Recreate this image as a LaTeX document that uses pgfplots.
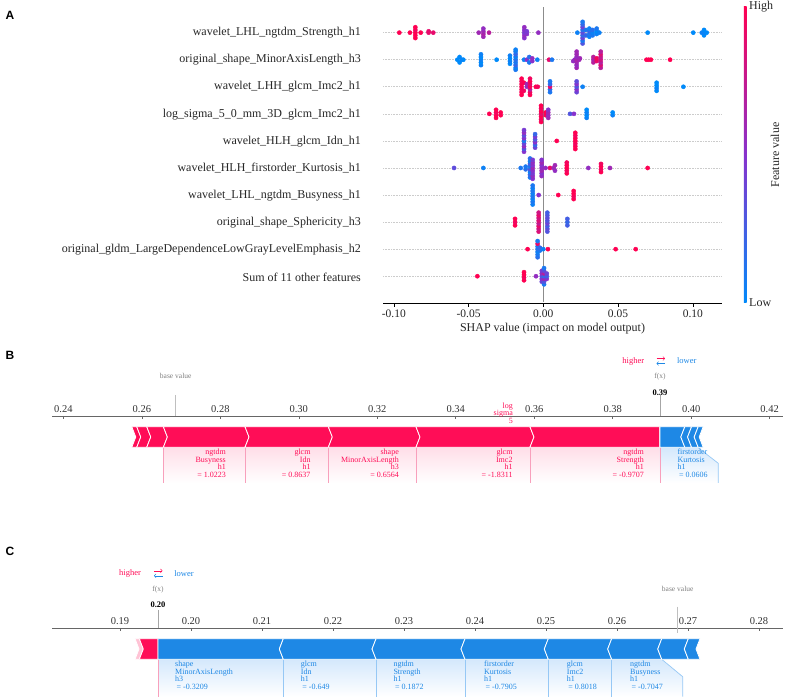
\documentclass[border=0pt]{standalone}
\usepackage{pgfplots}
\pgfplotsset{compat=1.18}
\usepackage{fontspec}
\setmainfont{Liberation Serif}
\newfontfamily\arialfont{Liberation Sans}
\definecolor{shapred}{RGB}{255,13,87}
\definecolor{shapblue}{RGB}{30,136,229}
\definecolor{cbblue}{RGB}{0,138,250}
\definecolor{cbred}{RGB}{255,0,82}
\definecolor{cbmid}{RGB}{135,50,205}
\definecolor{pinkline}{RGB}{248,160,188}
\definecolor{blueline}{RGB}{150,200,245}
\definecolor{pinkfill}{RGB}{255,222,232}
\definecolor{bluefill}{RGB}{212,232,252}
\definecolor{lightpink}{RGB}{255,195,213}
\newcommand{\fs}[2]{\fontsize{#1}{#2}\selectfont}

\begin{document}
\begin{tikzpicture}
\path[use as bounding box] (0,0) rectangle (786pt,699pt);

% ---------------- Panel A ----------------
\begin{axis}[
  at={(383pt,395.7pt)}, anchor=south west,
  scale only axis, width=339pt, height=297.7pt,
  xmin=-0.10722, xmax=0.11953, ymin=-1, ymax=10,
  axis x line*=bottom, hide y axis,
  xtick={-0.1,-0.05,0,0.05,0.1},
  xticklabels={-0.10,-0.05,0.00,0.05,0.10},
  tick align=outside, major tick length=3.5pt,
  xtick style={black, line width=0.6pt},
  x axis line style={black, line width=0.6pt, -},
  xticklabel style={font=\fs{11.5}{13}, text=black!85},
  colormap={shap}{rgb255=(0,138,250) rgb255=(135,50,205) rgb255=(255,0,82)},
  point meta min=0, point meta max=1,
  clip=false,
]
\pgfplotsinvokeforeach{0,...,9}{\draw[densely dotted, gray!40, line width=0.6pt] (axis cs:-0.10722,#1) -- (axis cs:0.11953,#1);}
\draw[black!45, line width=0.9pt] (axis cs:0,-0.95) -- (axis cs:0,9.95);
\addplot[scatter, only marks, mark=*, mark size=2.1pt, scatter src=explicit,
  scatter/use mapped color={draw=mapped color, fill=mapped color}]
  table[x=x, y=y, meta=c] {
x y c
-0.0963 9 1
-0.0892 9 1
-0.0856 8.8 1
-0.0856 8.9 1
-0.0856 9 1
-0.0856 9.1 0.95
-0.0856 9.2 1
-0.0820 9 1
-0.0767 9 0.9
-0.0767 9.05 0.9
-0.0736 9 0.9
-0.0432 9 0.6
-0.0401 8.85 0.6
-0.0401 8.95 0.65
-0.0401 9.05 0.6
-0.0401 9.15 0.55
-0.0363 9 0.7
-0.0127 8.8 0.5
-0.0127 8.9 0.55
-0.0127 9.0 0.45
-0.0127 9.1 0.5
-0.0127 9.2 0.55
-0.0110 8.95 0.5
-0.0110 9.05 0.45
-0.0033 9 0.55
0.0228 9 0.05
0.0263 8.6 0.3
0.0263 8.7 0.1
0.0263 8.8 0.4
0.0263 8.9 0.2
0.0263 9.0 0.35
0.0263 9.1 0.15
0.0263 9.2 0.4
0.0263 9.3 0.2
0.0263 9.4 0.1
0.0285 8.9 0.2
0.0285 9.1 0.1
0.0308 8.85 0.05
0.0308 8.95 0.1
0.0308 9.05 0.2
0.0308 9.15 0.05
0.0330 8.9 0.1
0.0330 9.0 0.05
0.0330 9.1 0.15
0.0357 8.95 0.05
0.0357 9.05 0.0
0.0357 9.15 0.1
0.0375 9 0.05
0.0698 9 0.0
0.1003 9 0.0
0.1060 9 0.05
0.1075 8.9 0.0
0.1075 9.0 0.05
0.1075 9.1 0
0.1093 9 0
-0.0575 8 0
-0.0560 7.9 0
-0.0560 8.1 0
-0.0545 8 0.05
-0.0535 8 0
-0.0417 7.8 0.05
-0.0417 7.9 0
-0.0417 8.0 0.05
-0.0417 8.1 0
-0.0417 8.2 0.05
-0.0312 8 0
-0.0223 7.85 0
-0.0223 7.95 0.05
-0.0223 8.05 0
-0.0223 8.15 0.05
-0.0185 7.63 0.1
-0.0185 7.7 0.05
-0.0185 7.8 0.2
-0.0185 7.9 0.1
-0.0185 8.0 0.15
-0.0185 8.1 0.05
-0.0185 8.2 0.2
-0.0185 8.3 0.1
-0.0185 8.37 0.05
-0.0129 8 0.05
-0.0110 8 0.5
-0.0094 7.9 0.1
-0.0094 8.1 0.15
-0.0074 7.95 0.5
-0.0074 8.05 0.55
-0.0040 8 0.05
0.0038 8 0.9
0.0058 8 0.1
0.0200 7.95 0.55
0.0210 8 0.55
0.0223 7.7 0.6
0.0223 7.8 0.55
0.0223 7.9 0.6
0.0223 8.0 0.65
0.0223 8.1 0.55
0.0223 8.2 0.6
0.0223 8.3 0.6
0.0240 8 0.6
0.0245 8.05 0.6
0.0335 7.9 0.7
0.0335 8.0 0.65
0.0335 8.1 0.7
0.0357 7.95 0.9
0.0357 8.05 0.95
0.0384 7.7 0.7
0.0384 7.8 0.85
0.0384 7.9 0.7
0.0384 8.0 0.8
0.0384 8.1 0.75
0.0384 8.2 0.85
0.0384 8.3 0.7
0.0690 8 1
0.0705 8 1
0.0720 8 1
0.0848 8 1
-0.0145 6.7 1
-0.0145 6.8 1
-0.0145 6.9 0.95
-0.0145 7.0 1
-0.0145 7.1 1
-0.0145 7.2 0.95
-0.0145 7.3 1
-0.0130 6.85 0.95
-0.0130 7.15 1
-0.0110 7.0 0.55
-0.0110 7.1 0.6
-0.0089 6.7 1
-0.0089 6.8 0.95
-0.0089 6.9 0.7
-0.0089 7.0 1
-0.0089 7.1 0.9
-0.0089 7.2 1
-0.0089 7.3 0.95
-0.0050 7 1
-0.0037 7 0.95
0.0045 6.8 0.1
0.0045 6.9 0.15
0.0045 7.0 0.9
0.0045 7.1 0.2
0.0045 7.2 0.1
0.0223 6.8 0.4
0.0223 6.9 0.5
0.0223 7.0 0.3
0.0223 7.1 0.5
0.0223 7.2 0.35
0.0263 7 0.05
0.0758 6.85 0
0.0758 6.95 0.05
0.0758 7.05 0
0.0758 7.15 0
0.0937 7 0
-0.0361 6 1
-0.0316 5.85 1
-0.0316 5.95 1
-0.0316 6.05 0.95
-0.0316 6.15 1
-0.0285 5.95 1
-0.0285 6.05 1
-0.0015 5.7 1
-0.0015 5.8 0.95
-0.0015 5.9 1
-0.0015 6.0 0.9
-0.0015 6.1 1
-0.0015 6.2 0.95
-0.0015 6.3 1
0.0016 5.95 0.95
0.0016 6.05 1
0.0033 5.85 0.6
0.0033 5.95 0.55
0.0033 6.05 0.6
0.0033 6.15 0.5
0.0179 6 0.3
0.0205 6 0.5
0.0290 5.85 0.05
0.0290 5.95 0
0.0290 6.05 0.05
0.0290 6.15 0
0.0464 5.95 0.05
0.0464 6.05 0
-0.0129 4.6 0.5
-0.0129 4.7 0.3
-0.0129 4.8 0.55
-0.0129 4.9 0.4
-0.0129 5.0 0.1
-0.0129 5.1 0.5
-0.0129 5.2 0.35
-0.0129 5.3 0.55
-0.0129 5.4 0.45
-0.0055 4.75 0.4
-0.0055 4.85 0.2
-0.0055 4.95 0.5
-0.0055 5.05 0.3
-0.0055 5.15 0.45
-0.0055 5.25 0.2
0.0090 5 1
0.0214 4.7 1
0.0214 4.8 1
0.0214 4.9 0.95
0.0214 5.0 1
0.0214 5.1 1
0.0214 5.2 0.95
0.0214 5.3 1
-0.0597 4 0.35
-0.0401 4 0.05
-0.0151 4 0.1
-0.0118 3.95 0.15
-0.0118 4.05 0.1
-0.0089 3.65 0.1
-0.0089 3.75 0.2
-0.0089 3.85 0.05
-0.0089 3.95 0.3
-0.0089 4.05 0.1
-0.0089 4.15 0.25
-0.0089 4.25 0.05
-0.0089 4.35 0.15
-0.0071 3.6 0.5
-0.0071 3.7 0.55
-0.0071 3.8 0.45
-0.0071 3.9 0.5
-0.0071 4.0 0.6
-0.0071 4.1 0.5
-0.0071 4.2 0.55
-0.0071 4.3 0.45
-0.0011 3.7 0.55
-0.0011 3.8 0.5
-0.0011 3.9 0.6
-0.0011 4.0 0.55
-0.0011 4.1 0.5
-0.0011 4.2 0.6
-0.0011 4.3 0.5
0.0015 4 0.55
0.0045 4 0.9
0.0070 4 0.6
0.0078 3.9 0.55
0.0078 4.1 0.6
0.0157 3.8 1
0.0157 3.9 0.95
0.0157 4.0 1
0.0157 4.1 1
0.0157 4.2 0.95
0.0301 4 0.55
0.0386 3.85 1
0.0386 3.95 0.95
0.0386 4.05 1
0.0386 4.15 0.95
0.0446 4 0.6
0.0698 4 1
-0.0071 2.65 0.05
-0.0071 2.75 0.1
-0.0071 2.85 0.05
-0.0071 2.95 0.1
-0.0071 3.05 0.05
-0.0071 3.15 0.1
-0.0071 3.25 0.05
-0.0071 3.35 0.1
-0.0031 3 0.5
0.0100 3 1
0.0203 2.85 1
0.0203 2.95 0.95
0.0203 3.05 1
0.0203 3.15 1
-0.0189 1.88 1
-0.0189 2.0 0.95
-0.0189 2.12 1
-0.0031 1.65 0.85
-0.0031 1.75 0.8
-0.0031 1.85 0.9
-0.0031 1.95 0.75
-0.0031 2.05 0.85
-0.0031 2.15 0.8
-0.0031 2.25 0.9
-0.0031 2.35 0.8
0.0027 1.65 0.3
0.0027 1.75 0.35
0.0027 1.85 0.25
0.0027 1.95 0.4
0.0027 2.05 0.3
0.0027 2.15 0.35
0.0027 2.25 0.3
0.0027 2.35 0.25
0.0161 1.88 0.25
0.0161 2.0 0.2
0.0161 2.12 0.25
-0.0105 1 1
-0.0038 0.7 0.15
-0.0038 0.8 0.1
-0.0038 0.9 0.05
-0.0038 1.0 0.15
-0.0038 1.1 0.1
-0.0038 1.2 0.9
-0.0038 1.3 0.1
-0.0022 0.95 0.1
-0.0022 1.05 0.2
0.0000 1 0.05
0.0031 1 1
0.0484 1 1
0.0618 1 1
-0.0441 0 1
-0.0129 -0.15 1
-0.0129 -0.05 0.95
-0.0129 0.05 1
-0.0129 0.15 1
-0.0049 0 0.55
-0.0010 -0.2 0.4
-0.0010 -0.1 0.5
-0.0010 0 0.3
-0.0010 0.1 0.55
-0.0010 0.2 0.45
0.0005 -0.3 0.1
0.0005 -0.2 0.3
0.0005 -0.1 0.6
0.0005 0.0 0.2
0.0005 0.1 0.7
0.0005 0.2 0.35
0.0005 0.3 0.1
0.0023 -0.1 0.5
0.0023 0 0.25
0.0023 0.1 0.4
};
\end{axis}

% ---------------- Panel B ----------------
\begin{axis}[
  at={(52pt,209pt)}, anchor=south west,
  scale only axis, width=731pt, height=74pt,
  xmin=0.2371, xmax=0.4234, ymin=-490, ymax=-416,
  axis x line*=top, hide y axis,
  xtick={0.24,0.26,0.28,0.30,0.32,0.34,0.36,0.38,0.40,0.42},
  xticklabels={0.24,0.26,0.28,0.30,0.32,0.34,0.36,0.38,0.40,0.42},
  tick align=inside, major tick length=3pt,
  xtick style={black!60, line width=0.6pt},
  x axis line style={black!60, line width=0.8pt, -},
  xticklabel style={font=\fs{10.5}{12}, text=black!80},
  clip=false,
]
% label boxes
\addplot[draw=none, top color=pinkfill, bottom color=white] coordinates {(0.26548,-447.3) (0.39202,-447.3) (0.39202,-483) (0.26548,-483)} -- cycle;
\addplot[draw=none, top color=bluefill, bottom color=white] coordinates {(0.39202,-447.3) (0.40164,-447.3) (0.40690,-463.3) (0.40690,-483) (0.39202,-483)} -- cycle;
\pgfplotsinvokeforeach{0.26548,0.28629,0.30752,0.32986,0.35891,0.39202}{\draw[pinkline, line width=0.7pt] (axis cs:#1,-447.3) -- (axis cs:#1,-483);}
\draw[blueline, line width=0.7pt] (axis cs:0.40164,-447.3) -- (axis cs:0.40690,-463.3) -- (axis cs:0.40690,-483);
% red segments
\addplot[fill=shapred, draw=white, line width=0.8pt] coordinates {(0.25743,-426.7) (0.25870,-426.7) (0.25972,-437) (0.25870,-447.3) (0.25743,-447.3) (0.25845,-437)} -- cycle;
\addplot[fill=shapred, draw=white, line width=0.8pt] coordinates {(0.25870,-426.7) (0.26125,-426.7) (0.26227,-437) (0.26125,-447.3) (0.25870,-447.3) (0.25972,-437)} -- cycle;
\addplot[fill=shapred, draw=white, line width=0.8pt] coordinates {(0.26125,-426.7) (0.26548,-426.7) (0.26650,-437) (0.26548,-447.3) (0.26125,-447.3) (0.26227,-437)} -- cycle;
\addplot[fill=shapred, draw=white, line width=0.8pt] coordinates {(0.26548,-426.7) (0.28629,-426.7) (0.28731,-437) (0.28629,-447.3) (0.26548,-447.3) (0.26650,-437)} -- cycle;
\addplot[fill=shapred, draw=white, line width=0.8pt] coordinates {(0.28629,-426.7) (0.30752,-426.7) (0.30854,-437) (0.30752,-447.3) (0.28629,-447.3) (0.28731,-437)} -- cycle;
\addplot[fill=shapred, draw=white, line width=0.8pt] coordinates {(0.30752,-426.7) (0.32986,-426.7) (0.33088,-437) (0.32986,-447.3) (0.30752,-447.3) (0.30854,-437)} -- cycle;
\addplot[fill=shapred, draw=white, line width=0.8pt] coordinates {(0.32986,-426.7) (0.35891,-426.7) (0.35993,-437) (0.35891,-447.3) (0.32986,-447.3) (0.33088,-437)} -- cycle;
\addplot[fill=shapred, draw=white, line width=0.8pt] coordinates {(0.35891,-426.7) (0.39202,-426.7) (0.39202,-447.3) (0.35891,-447.3) (0.35993,-437)} -- cycle;
% blue segments
\addplot[fill=shapblue, draw=white, line width=0.8pt] coordinates {(0.39202,-426.7) (0.39838,-426.7) (0.39736,-437) (0.39838,-447.3) (0.39202,-447.3)} -- cycle;
\addplot[fill=shapblue, draw=white, line width=0.8pt] coordinates {(0.39838,-426.7) (0.40010,-426.7) (0.39908,-437) (0.40010,-447.3) (0.39838,-447.3) (0.39736,-437)} -- cycle;
\addplot[fill=shapblue, draw=white, line width=0.8pt] coordinates {(0.40010,-426.7) (0.40178,-426.7) (0.40076,-437) (0.40178,-447.3) (0.40010,-447.3) (0.39908,-437)} -- cycle;
\addplot[fill=shapblue, draw=white, line width=0.8pt] coordinates {(0.40178,-426.7) (0.40306,-426.7) (0.40204,-437) (0.40306,-447.3) (0.40178,-447.3) (0.40076,-437)} -- cycle;
% f(x) and base value lines
\draw[black!35, line width=0.6pt] (axis cs:0.39202,-395) -- (axis cs:0.39202,-416);
\draw[black!25, line width=0.6pt] (axis cs:0.26864,-395) -- (axis cs:0.26864,-416);
\end{axis}

% ---------------- Panel C ----------------
\begin{axis}[
  at={(52pt,1pt)}, anchor=south west,
  scale only axis, width=731pt, height=70pt,
  xmin=0.18042, xmax=0.28338, ymin=-698, ymax=-628,
  axis x line*=top, hide y axis,
  xtick={0.19,0.20,0.21,0.22,0.23,0.24,0.25,0.26,0.27,0.28},
  xticklabels={0.19,0.20,0.21,0.22,0.23,0.24,0.25,0.26,0.27,0.28},
  tick align=inside, major tick length=3pt,
  xtick style={black!60, line width=0.6pt},
  x axis line style={black!60, line width=0.8pt, -},
  xticklabel style={font=\fs{10.5}{12}, text=black!80},
  clip=false,
]
\addplot[draw=none, top color=bluefill, bottom color=white] coordinates {(0.19535,-659.3) (0.26630,-659.3) (0.26925,-676.7) (0.26925,-696.7) (0.19535,-696.7)} -- cycle;
\pgfplotsinvokeforeach{0.21300,0.22606,0.23859,0.25032,0.25925}{\draw[blueline, line width=0.7pt] (axis cs:#1,-659.3) -- (axis cs:#1,-696.7);}
\draw[blueline, line width=0.7pt] (axis cs:0.26630,-659.3) -- (axis cs:0.26925,-676.7) -- (axis cs:0.26925,-696.7);
\draw[pinkline, line width=0.7pt] (axis cs:0.19535,-659.3) -- (axis cs:0.19535,-696.7);
% red / pink
\addplot[fill=lightpink, draw=white, line width=0.8pt] coordinates {(0.19211,-638.7) (0.19272,-638.7) (0.19328,-649) (0.19272,-659.3) (0.19211,-659.3) (0.19267,-649)} -- cycle;
\addplot[fill=shapred, draw=white, line width=0.8pt] coordinates {(0.19272,-638.7) (0.19535,-638.7) (0.19535,-659.3) (0.19272,-659.3) (0.19328,-649)} -- cycle;
% blue
\addplot[fill=shapblue, draw=white, line width=0.8pt] coordinates {(0.19535,-638.7) (0.21300,-638.7) (0.21244,-649) (0.21300,-659.3) (0.19535,-659.3)} -- cycle;
\addplot[fill=shapblue, draw=white, line width=0.8pt] coordinates {(0.21300,-638.7) (0.22606,-638.7) (0.22550,-649) (0.22606,-659.3) (0.21300,-659.3) (0.21244,-649)} -- cycle;
\addplot[fill=shapblue, draw=white, line width=0.8pt] coordinates {(0.22606,-638.7) (0.23859,-638.7) (0.23803,-649) (0.23859,-659.3) (0.22606,-659.3) (0.22550,-649)} -- cycle;
\addplot[fill=shapblue, draw=white, line width=0.8pt] coordinates {(0.23859,-638.7) (0.25032,-638.7) (0.24976,-649) (0.25032,-659.3) (0.23859,-659.3) (0.23803,-649)} -- cycle;
\addplot[fill=shapblue, draw=white, line width=0.8pt] coordinates {(0.25032,-638.7) (0.25925,-638.7) (0.25869,-649) (0.25925,-659.3) (0.25032,-659.3) (0.24976,-649)} -- cycle;
\addplot[fill=shapblue, draw=white, line width=0.8pt] coordinates {(0.25925,-638.7) (0.26630,-638.7) (0.26574,-649) (0.26630,-659.3) (0.25925,-659.3) (0.25869,-649)} -- cycle;
\addplot[fill=shapblue, draw=white, line width=0.8pt] coordinates {(0.26630,-638.7) (0.27004,-638.7) (0.26948,-649) (0.27004,-659.3) (0.26630,-659.3) (0.26574,-649)} -- cycle;
\addplot[fill=shapblue, draw=white, line width=0.8pt] coordinates {(0.27004,-638.7) (0.27169,-638.7) (0.27113,-649) (0.27169,-659.3) (0.27004,-659.3) (0.26948,-649)} -- cycle;
\draw[black!35, line width=0.6pt] (axis cs:0.19535,-610) -- (axis cs:0.19535,-628);
\draw[black!25, line width=0.6pt] (axis cs:0.26855,-606.7) -- (axis cs:0.26855,-633.3);
\end{axis}

% ---------------- Text (pixel coordinates, y down) ----------------
\begin{scope}[x=1pt, y=-1pt, yshift=699pt]
\node[font=\arialfont\bfseries\fs{12}{14}] at (10,15) {A};
\node[font=\arialfont\bfseries\fs{12}{14}] at (10,355) {B};
\node[font=\arialfont\bfseries\fs{12}{14}] at (10,551) {C};
\begin{scope}[every node/.style={anchor=east, font=\fs{12}{14}, text=black!85, inner sep=0pt}]
\node at (361,32.7) {wavelet\_LHL\_ngtdm\_Strength\_h1};
\node at (361,59.85) {original\_shape\_MinorAxisLength\_h3};
\node at (361,87.0) {wavelet\_LHH\_glcm\_Imc2\_h1};
\node at (361,114.15) {log\_sigma\_5\_0\_mm\_3D\_glcm\_Imc2\_h1};
\node at (361,141.3) {wavelet\_HLH\_glcm\_Idn\_h1};
\node at (361,168.45) {wavelet\_HLH\_firstorder\_Kurtosis\_h1};
\node at (361,195.6) {wavelet\_LHL\_ngtdm\_Busyness\_h1};
\node at (361,222.75) {original\_shape\_Sphericity\_h3};
\node at (361,249.9) {original\_gldm\_LargeDependenceLowGrayLevelEmphasis\_h2};
\node at (361,277.05) {Sum of 11 other features};
\end{scope}
\node[font=\fs{12}{14}, text=black!85] at (552.5,329) {SHAP value (impact on model output)};
\shade[bottom color=cbblue, top color=cbred, middle color=cbmid] (743.8,6.7) rectangle (746.6,303);
\node[anchor=west, font=\fs{12}{14}, text=black!85, inner sep=0] at (749,7) {High};
\node[anchor=west, font=\fs{12}{14}, text=black!85, inner sep=0] at (749,303) {Low};
\node[rotate=90, font=\fs{12}{14}, text=black!85] at (775,155) {Feature value};

% Panel B texts
\node[font=\fs{8.5}{10}, text=shapred] at (633.3,361) {higher};
\node[font=\fs{8.5}{10}, text=shapblue] at (686.7,361) {lower};
\draw[shapred, line width=0.6pt, ->] (656.5,358.5) -- (665,358.5);
\draw[shapblue, line width=0.6pt, ->] (665,363.5) -- (656.5,363.5);
\node[font=\fs{7.5}{9}, text=black!50] at (660,376.7) {f(x)};
\node[font=\bfseries\fs{8.5}{10}] at (660,392.3) {0.39};
\node[font=\fs{7.5}{9}, text=black!50] at (175.7,376) {base value};
\node[anchor=north east, align=right, font=\fs{8}{7.5}, text=shapred, inner sep=0] at (513,402.5) {log\\sigma\\5};
\begin{scope}[every node/.style={anchor=north east, align=right, font=\fs{8}{7.5}, text=shapred, inner sep=0}]
\node at (226,448.8) {ngtdm\\Busyness\\h1\\= 1.0223};
\node at (310.7,448.8) {glcm\\Idn\\h1\\= 0.8637};
\node at (399,448.8) {shape\\MinorAxisLength\\h3\\= 0.6564};
\node at (512.7,448.8) {glcm\\Imc2\\h1\\= -1.8311};
\node at (644,448.8) {ngtdm\\Strength\\h1\\= -0.9707};
\end{scope}
\node[anchor=north west, align=left, font=\fs{8}{7.5}, text=shapblue, inner sep=0] at (677.3,448.8) {firstorder\\Kurtosis\\h1\\\hspace{1.5pt}= 0.0606};

% Panel C texts
\node[font=\fs{8.5}{10}, text=shapred] at (130,573.3) {higher};
\node[font=\fs{8.5}{10}, text=shapblue] at (184,573.3) {lower};
\draw[shapred, line width=0.6pt, ->] (154,570.8) -- (162.5,570.8);
\draw[shapblue, line width=0.6pt, ->] (162.5,575.8) -- (154,575.8);
\node[font=\fs{7.5}{9}, text=black!50] at (158,589.3) {f(x)};
\node[font=\bfseries\fs{8.5}{10}] at (158,605) {0.20};
\node[font=\fs{7.5}{9}, text=black!50] at (677.7,589) {base value};
\begin{scope}[every node/.style={anchor=north west, align=left, font=\fs{8}{7.5}, text=shapblue, inner sep=0}]
\node at (175,660.8) {shape\\MinorAxisLength\\h3\\\hspace{1.5pt}= -0.3209};
\node at (300.7,660.8) {glcm\\Idn\\h1\\\hspace{1.5pt}= -0.649};
\node at (393.3,660.8) {ngtdm\\Strength\\h1\\\hspace{1.5pt}= 0.1872};
\node at (484,660.8) {firstorder\\Kurtosis\\h1\\\hspace{1.5pt}= -0.7905};
\node at (566.7,660.8) {glcm\\Imc2\\h1\\\hspace{1.5pt}= 0.8018};
\node at (630,660.8) {ngtdm\\Busyness\\h1\\\hspace{1.5pt}= -0.7047};
\end{scope}
\end{scope}
\end{tikzpicture}
\end{document}
